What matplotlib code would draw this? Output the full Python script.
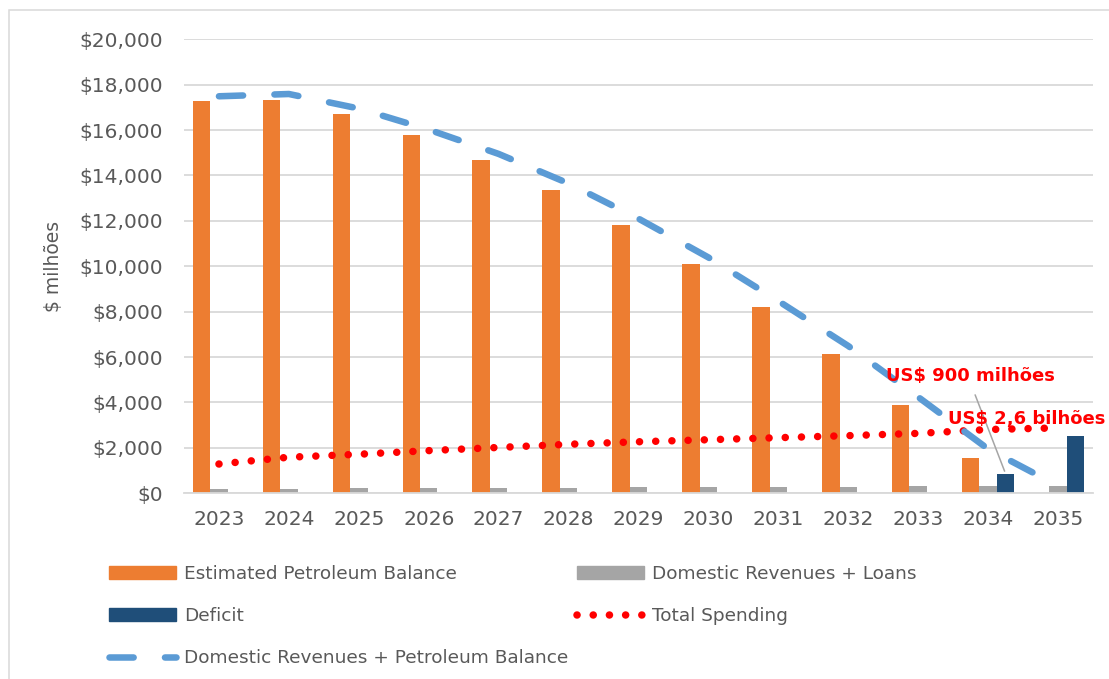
import numpy as np
import matplotlib
matplotlib.use("Agg")
import matplotlib.pyplot as plt
from matplotlib.patches import Patch, Rectangle
from matplotlib.lines import Line2D
from matplotlib.ticker import FuncFormatter

# values (US$ millions)
years = ["2023", "2024", "2025", "2026", "2027", "2028", "2029",
         "2030", "2031", "2032", "2033", "2034", "2035"]
petroleum_balance = [17270, 17340, 16700, 15780, 14700, 13370, 11830,
                     10110, 8220, 6150, 3890, 1540, 0]
domestic_loans = [200, 210, 220, 230, 240, 250, 260, 270, 280, 290, 300, 320, 330]
deficit = [0, 0, 0, 0, 0, 0, 0, 0, 0, 0, 0, 860, 2540]
total_spending = [1290, 1590, 1720, 1880, 2020, 2160, 2270,
                  2360, 2450, 2540, 2640, 2810, 2880]
domestic_petroleum = [17490, 17590, 16950, 16020, 14950, 13650, 12100,
                      10390, 8470, 6490, 4240, 1950, 330]

ORANGE = "#ed7d31"
GREY = "#a5a5a5"
NAVY = "#1f4e79"
BLUE = "#5b9bd5"
RED = "#ff0000"
TXT = "#595959"

plt.rcParams["font.family"] = ["DejaVu Sans"]

fig = plt.figure(figsize=(11.09, 6.79), dpi=100)
W, H = 1109, 679
ax = fig.add_axes([184 / W, 1 - 493.3 / H, (1093 - 184) / W, (493.3 - 39.3) / H])

x = np.arange(len(years))
bw = 0.25
ax.bar(x - bw, petroleum_balance, bw, color=ORANGE, zorder=2)
ax.bar(x, domestic_loans, bw, color=GREY, zorder=2)
ax.bar(x + bw, deficit, bw, color=NAVY, zorder=2)

ax.plot(x, total_spending, color=RED, lw=5.4, dashes=(0.01, 2.15),
        dash_capstyle="round", zorder=3)
ax.plot(x, domestic_petroleum, color=BLUE, lw=4.7, dashes=(3.7, 4.8),
        dash_capstyle="round", zorder=4)

ax.set_xlim(-0.5, len(years) - 0.5)
ax.set_ylim(0, 20000)
ax.set_yticks(np.arange(0, 20001, 2000))
ax.yaxis.set_major_formatter(FuncFormatter(lambda v, p: "${:,.0f}".format(v)))
ax.set_xticks(x)
ax.set_xticklabels(years)
ax.grid(axis="y", color="#d9d9d9", lw=1.3, zorder=0)
ax.set_axisbelow(True)
for s in ["top", "right", "left"]:
    ax.spines[s].set_visible(False)
ax.spines["bottom"].set_color("#d9d9d9")
ax.spines["bottom"].set_linewidth(1.3)
ax.tick_params(axis="y", length=0, pad=15, labelsize=14.5, labelcolor=TXT)
ax.tick_params(axis="x", length=0, pad=12, labelsize=14.5, labelcolor=TXT)
ax.set_ylabel("$ milhões", fontsize=13.5, color=TXT, labelpad=12)

# annotations
ax.annotate("", xy=(11.25, 860), xytext=(10.8, 4450),
            arrowprops=dict(arrowstyle="-", color="#a5a5a5", lw=1.1), zorder=5)
ax.text(10.75, 5150, "US$ 900 milhões", color=RED, fontsize=13, fontweight="bold",
        ha="center", va="center", zorder=6)
ax.text(10.42, 3290, "US$ 2,6 bilhões", color=RED, fontsize=13, fontweight="bold",
        ha="left", va="center", zorder=6, clip_on=False)

# legend in two columns
h1 = [Patch(color=ORANGE), Patch(color=NAVY),
      Line2D([], [], color=BLUE, lw=4.7, dashes=(3.7, 4.8), dash_capstyle="round")]
l1 = ["Estimated Petroleum Balance", "Deficit", "Domestic Revenues + Petroleum Balance"]
h2 = [Patch(color=GREY),
      Line2D([], [], color=RED, lw=5.4, dashes=(0.01, 2.15), dash_capstyle="round")]
l2 = ["Domestic Revenues + Loans", "Total Spending"]
kw = dict(loc="upper left", frameon=False, fontsize=13.3, labelcolor=TXT,
          handlelength=3.6, handletextpad=0.45, labelspacing=1.3,
          borderpad=0, borderaxespad=0)
fig.legend(h1, l1, bbox_to_anchor=(109 / W, 1 - 565 / H), **kw)
fig.legend(h2, l2, bbox_to_anchor=(577 / W, 1 - 565 / H), **kw)

# outer chart border
fig.patches.append(Rectangle((9 / W, -0.1), 1.2, 1.1 - 10 / H, transform=fig.transFigure,
                             fill=False, edgecolor="#d9d9d9", lw=1.1))

fig.savefig("out.png", dpi=100)
